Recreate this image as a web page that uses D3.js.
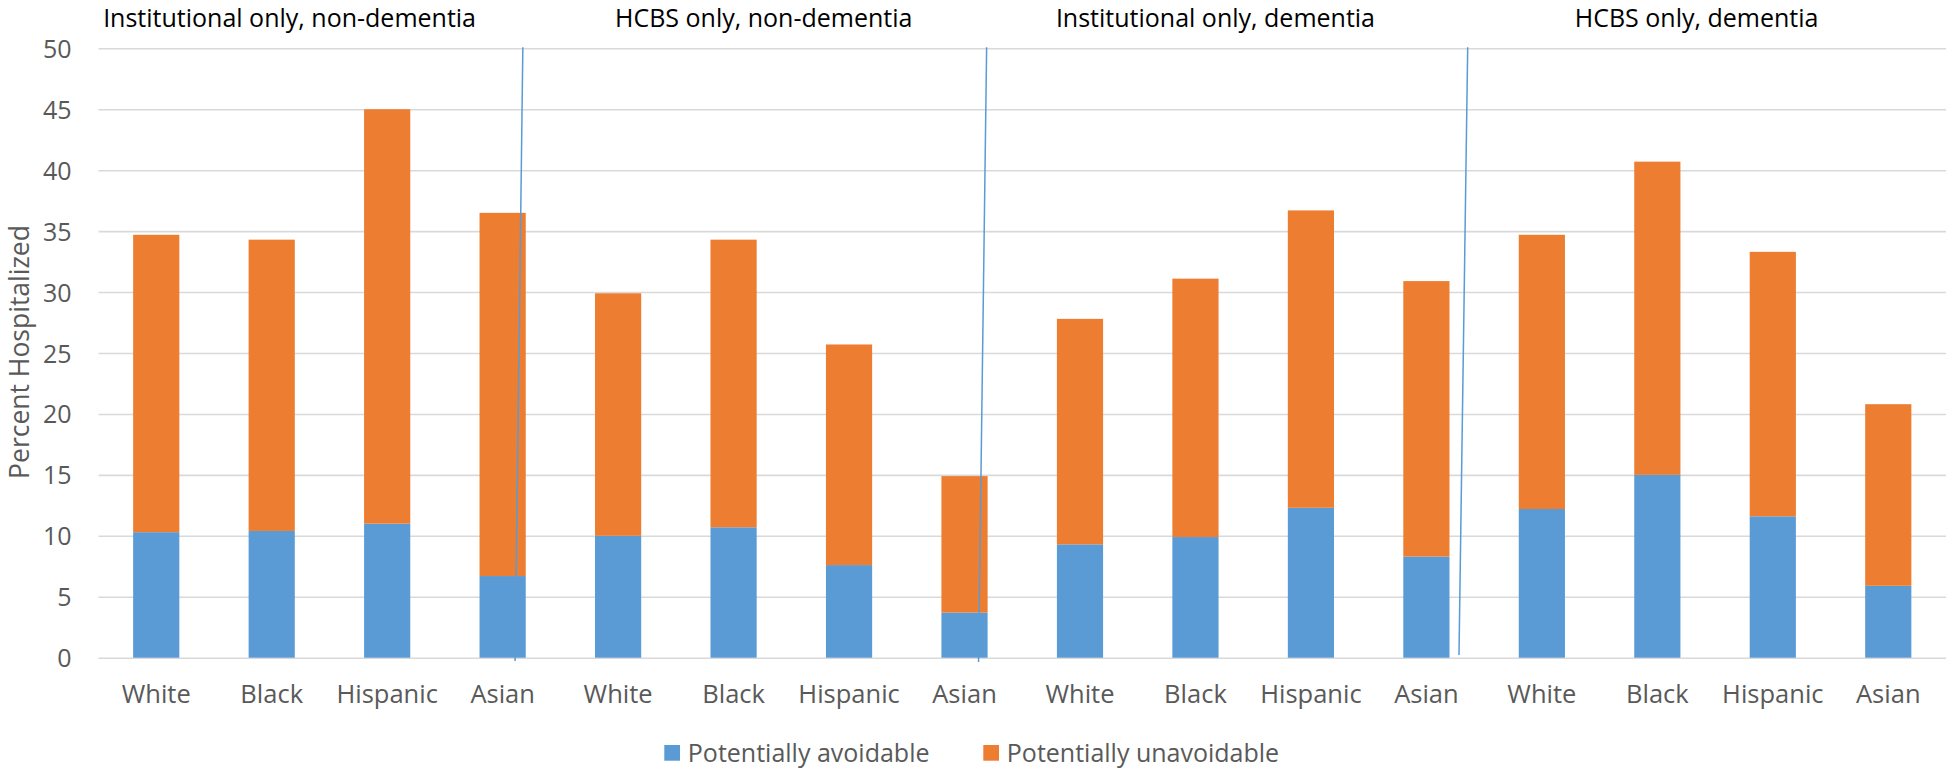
<!DOCTYPE html>
<html>
<head>
  <script src="https://d3js.org/d3.v7.min.js"></script>
  <style>
    body { margin: 0; background: #fff; }
    text { font-family: "Open Sans", sans-serif; }
  </style>
</head>
<body>
  <svg id="chart" width="1950" height="771"></svg>
  <script>
    // panel titles and categories
    const groups = ["Institutional only, non-dementia", "HCBS only, non-dementia",
                    "Institutional only, dementia", "HCBS only, dementia"];
    const races = ["White", "Black", "Hispanic", "Asian"];
    const seriesNames = ["Potentially avoidable", "Potentially unavoidable"];

    // values per bar (group by group, White/Black/Hispanic/Asian)
    const avoidable = [10.3, 10.4, 11.0, 6.7,
                       10.0, 10.7, 7.6, 3.7,
                       9.3, 9.9, 12.3, 8.3,
                       12.2, 15.0, 11.6, 5.9];
    const unavoidable = [24.4, 23.9, 34.0, 29.8,
                         19.9, 23.6, 18.1, 11.2,
                         18.5, 21.2, 24.4, 22.6,
                         22.5, 25.7, 21.7, 14.9];
    const yTicks = [0, 5, 10, 15, 20, 25, 30, 35, 40, 45, 50];

    const colors = ["#5B9BD5", "#ED7D31"];

    const svg = d3.select("#chart");
    const plotL = 98.5, plotR = 1946, plotT = 48.3, plotB = 657.7;

    const rows = avoidable.map((a, i) => ({
      idx: i,
      race: races[i % races.length],
      avoidable: a,
      unavoidable: unavoidable[i]
    }));

    const x = d3.scaleBand()
      .domain(rows.map(d => d.idx))
      .range([plotL, plotR])
      .paddingInner(0.6)
      .paddingOuter(0.3);

    const y = d3.scaleLinear().domain([0, 50]).range([plotB, plotT]);

    // gridlines + y labels
    const yAxis = svg.append("g")
      .attr("transform", `translate(${plotL},0)`)
      .call(d3.axisLeft(y).tickValues(yTicks).tickSize(-(plotR - plotL)).tickPadding(27));
    yAxis.select(".domain").remove();
    yAxis.selectAll("line").attr("stroke", "#D9D9D9").attr("stroke-width", 1.6);
    yAxis.selectAll("text")
      .attr("fill", "#595959")
      .style("font-size", "25px")
      .attr("dy", "0.36em");

    // stacked bars
    const stack = d3.stack().keys(["avoidable", "unavoidable"]);
    const layers = stack(rows);

    svg.append("g").selectAll("g")
      .data(layers)
      .join("g")
      .attr("fill", (d, i) => colors[i])
      .selectAll("rect")
      .data(d => d)
      .join("rect")
      .attr("x", d => x(d.data.idx))
      .attr("width", x.bandwidth())
      .attr("y", d => y(d[1]))
      .attr("height", d => y(d[0]) - y(d[1]));

    // category labels
    const xAxis = svg.append("g")
      .attr("transform", `translate(0,${plotB})`)
      .call(d3.axisBottom(x).tickSize(0).tickFormat(i => rows[i].race));
    xAxis.select(".domain").remove();
    xAxis.selectAll("text")
      .attr("fill", "#595959")
      .style("font-size", "25.5px")
      .attr("y", 45)
      .attr("dy", 0);

    // group separators (thin slanted lines as in the source)
    const sepAfter = [3, 7, 11];
    const sepTopOff = [43.3, 45.2, 64.4];
    const sepBotOff = [35.5, 37.1, 55.7];
    const sepBotY = [661, 662, 655];
    svg.append("g").selectAll("line")
      .data(sepAfter)
      .join("line")
      .attr("x1", (d, i) => x(d) + sepTopOff[i])
      .attr("y1", plotT - 1)
      .attr("x2", (d, i) => x(d) + sepBotOff[i])
      .attr("y2", (d, i) => sepBotY[i])
      .attr("stroke", "#5B9BD5")
      .attr("stroke-width", 1.5);

    // panel titles
    const titleOff = [-30, 20, -1, 56];
    svg.append("g").selectAll("text")
      .data(groups)
      .join("text")
      .attr("x", (d, i) => x(i * 4) + titleOff[i])
      .attr("y", 27)
      .attr("fill", "#000")
      .style("font-size", "25px")
      .text(d => d);

    // y title
    svg.append("text")
      .attr("transform", "translate(28.5,352) rotate(-90)")
      .attr("text-anchor", "middle")
      .attr("fill", "#595959")
      .style("font-size", "26.5px")
      .text("Percent Hospitalized");

    // legend
    const legX = [664.3, 983.3];
    const leg = svg.append("g").selectAll("g")
      .data(seriesNames)
      .join("g")
      .attr("transform", (d, i) => `translate(${legX[i]},745)`);
    leg.append("rect")
      .attr("width", 15.7).attr("height", 15.7)
      .attr("fill", (d, i) => colors[i]);
    leg.append("text")
      .attr("x", 23.5)
      .attr("y", 8)
      .attr("dy", "0.35em")
      .attr("fill", "#595959")
      .style("font-size", "25px")
      .text(d => d);
  </script>
</body>
</html>
